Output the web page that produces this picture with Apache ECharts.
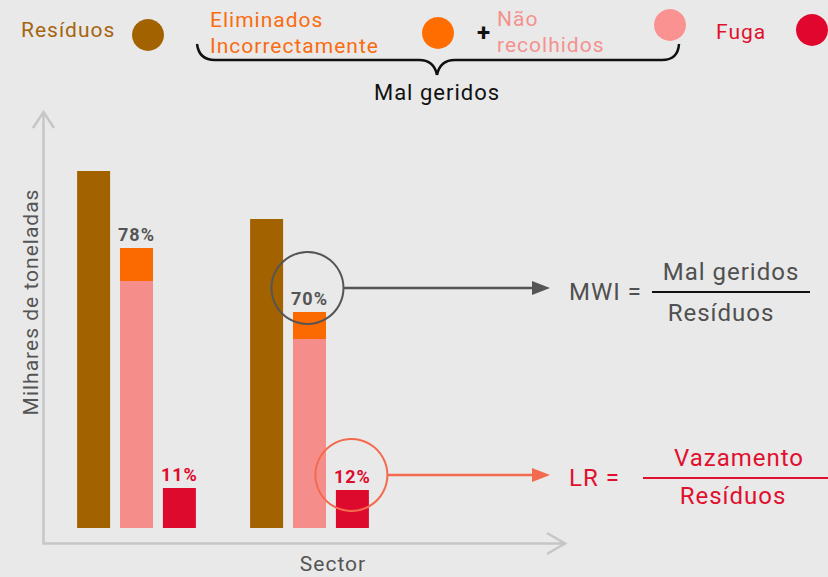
<!DOCTYPE html>
<html>
<head>
<meta charset="utf-8">
<script src="https://cdn.jsdelivr.net/npm/echarts/dist/echarts.min.js"></script>
<style>
  html, body { margin: 0; padding: 0; background: #e9e9e9; }
  #chart { width: 828px; height: 577px; }
  #chart text { letter-spacing: 1px; }
</style>
</head>
<body>
<div id="chart"></div>
<script>
// Thousands of tonnes per sector
const sectors = ['Sector 1', 'Sector 2'];
const residuos = [357, 309];
const naoRecolhidos = [247, 189];
const eliminadosIncorrectamente = [33, 27];
const fuga = [40, 38];

const FONT = 'Roboto, "Noto Sans", sans-serif';
const C_BROWN = '#a36200';
const C_ORANGE = '#fa6a00';
const C_PINK = '#f58e8a';
const C_RED = '#de0a2e';
const C_GRAY_TXT = '#555555';
const BAR_W = 33;
const BAR_GAP = 0.3;

const pct = (num, den) => Math.round(num / den * 100) + '%';

const chart = echarts.init(document.getElementById('chart'), null, { renderer: 'svg' });

const option = {
  backgroundColor: '#e9e9e9',
  animation: false,
  textStyle: { fontFamily: FONT },
  grid: { left: 50, right: 432, top: 112, bottom: 49 },
  xAxis: {
    type: 'category',
    data: sectors,
    axisLine: { show: false },
    axisTick: { show: false },
    axisLabel: { show: false },
    splitLine: { show: false }
  },
  yAxis: {
    type: 'value',
    min: 0,
    max: 416,
    axisLine: { show: false },
    axisTick: { show: false },
    axisLabel: { show: false },
    splitLine: { show: false }
  },
  series: [
    {
      name: 'Resíduos',
      type: 'bar',
      data: residuos,
      barWidth: BAR_W,
      barGap: (BAR_GAP * 100) + '%',
      itemStyle: { color: C_BROWN }
    },
    {
      name: 'Não recolhidos',
      type: 'bar',
      stack: 'malGeridos',
      data: naoRecolhidos,
      barWidth: BAR_W,
      itemStyle: { color: C_PINK }
    },
    {
      name: 'Eliminados Incorrectamente',
      type: 'bar',
      stack: 'malGeridos',
      data: eliminadosIncorrectamente,
      barWidth: BAR_W,
      itemStyle: { color: C_ORANGE },
      label: {
        show: true,
        position: 'top',
        distance: 5,
        fontFamily: FONT,
        fontSize: 18,
        fontWeight: 'bold',
        color: C_GRAY_TXT,
        formatter: p => pct(naoRecolhidos[p.dataIndex] + eliminadosIncorrectamente[p.dataIndex], residuos[p.dataIndex])
      }
    },
    {
      name: 'Fuga',
      type: 'bar',
      data: fuga,
      barWidth: BAR_W,
      itemStyle: { color: C_RED },
      label: {
        show: true,
        position: 'top',
        distance: 5,
        fontFamily: FONT,
        fontSize: 18,
        fontWeight: 'bold',
        color: C_RED,
        formatter: p => pct(fuga[p.dataIndex], residuos[p.dataIndex])
      }
    }
  ]
};

chart.setOption(option);

// Annotation geometry derived from the plotted bars
const slot = BAR_W * (1 + BAR_GAP);
const cx2 = chart.convertToPixel({ xAxisIndex: 0 }, sectors[1]);
const topMal2 = chart.convertToPixel({ yAxisIndex: 0 }, naoRecolhidos[1] + eliminadosIncorrectamente[1]);
const topFuga2 = chart.convertToPixel({ yAxisIndex: 0 }, fuga[1]);
const ring1 = { x: cx2 - 2, y: topMal2 - 24, r: 36 };
const ring2 = { x: cx2 + slot - 1, y: topFuga2 - 15, r: 36 };

const Z = 100;
function txt(x, y, text, size, color, align, extra) {
  return Object.assign({
    type: 'text', x: x, y: y, z: Z, silent: true,
    style: { text: text, fontFamily: FONT, fontSize: size, fill: color, align: align || 'left', verticalAlign: 'middle' }
  }, extra || {});
}
function dot(x, y, color) {
  return { type: 'circle', z: Z, shape: { cx: x, cy: y, r: 16 }, style: { fill: color }, silent: true };
}
function ring(c, color) {
  return { type: 'circle', z: Z, shape: { cx: c.x, cy: c.y, r: c.r }, style: { stroke: color, lineWidth: 2, fill: null }, silent: true };
}
function line(x1, y1, x2, y2, color, w) {
  return { type: 'line', z: Z, shape: { x1: x1, y1: y1, x2: x2, y2: y2 }, style: { stroke: color, lineWidth: w }, silent: true };
}
function curve(x1, y1, cx, cy, x2, y2, color, w) {
  return { type: 'bezierCurve', z: Z, shape: { x1: x1, y1: y1, cpx1: cx, cpy1: cy, x2: x2, y2: y2 }, style: { stroke: color, lineWidth: w, fill: null }, silent: true };
}
function chevron(points, color) {
  return { type: 'polyline', z: Z, shape: { points: points }, style: { stroke: color, lineWidth: 2.5, fill: null }, silent: true };
}
function arrowHead(xTip, y, color) {
  return { type: 'polygon', z: Z, shape: { points: [[xTip - 18, y - 7], [xTip, y], [xTip - 18, y + 7]] }, style: { fill: color }, silent: true };
}

const AXIS_C = '#c6c6c6';
const BRACE_C = '#111111';
const graphics = [
  // axes with open arrow heads
  chevron([[43.5, 113], [43.5, 543.5], [564, 543.5]], AXIS_C),
  chevron([[33, 128], [43.5, 112], [54, 128]], AXIS_C),
  chevron([[547, 533], [565, 543.5], [547, 554]], AXIS_C),
  txt(31, 302, 'Milhares de toneladas', 21, C_GRAY_TXT, 'center', { rotation: Math.PI / 2 }),
  txt(333, 564, 'Sector', 21, C_GRAY_TXT, 'center'),

  // legend row
  txt(21, 30, 'Resíduos', 21, '#a5650f'),
  dot(148, 35, C_BROWN),
  txt(210, 20, 'Eliminados', 21, '#f96c10'),
  txt(210, 45.5, 'Incorrectamente', 21, '#f96c10'),
  dot(438, 33, '#ff6d00'),
  { type: 'text', x: 484, y: 33, z: Z, silent: true,
    style: { text: '+', fontFamily: FONT, fontSize: 24, fontWeight: 'bold', fill: '#111111', align: 'center', verticalAlign: 'middle' } },
  txt(497, 19, 'Não', 21, '#f4928e'),
  txt(497, 45, 'recolhidos', 21, '#f4928e'),
  dot(670, 25, '#f99290'),
  txt(716, 31.5, 'Fuga', 21, '#e0102e'),
  dot(812, 30, '#e0062e'),
  // brace grouping the two mismanaged categories
  curve(197, 44, 199, 60, 215, 60, BRACE_C, 2.5),
  line(215, 60, 419, 60, BRACE_C, 2.5),
  curve(419, 60, 434, 60, 437, 75, BRACE_C, 2.5),
  curve(437, 75, 440, 60, 455, 60, BRACE_C, 2.5),
  line(455, 60, 662, 60, BRACE_C, 2.5),
  curve(662, 60, 678, 60, 679, 44, BRACE_C, 2.5),
  txt(437, 92, 'Mal geridos', 22, '#111111', 'center'),

  // MWI annotation
  ring(ring1, '#555555'),
  line(ring1.x + ring1.r, ring1.y, 534, ring1.y, '#555555', 2.5),
  arrowHead(550, ring1.y, '#555555'),
  txt(569, 292, 'MWI =', 24, '#505050'),
  line(652, 292, 810, 292, '#111111', 2),
  txt(731, 272, 'Mal geridos', 24, '#505050', 'center'),
  txt(721, 313, 'Resíduos', 24, '#505050', 'center'),

  // LR annotation
  ring(ring2, '#f46a4e'),
  line(ring2.x + ring2.r, ring2.y, 534, ring2.y, '#f46a4e', 2.5),
  arrowHead(550, ring2.y, '#f46a4e'),
  txt(569, 478, 'LR =', 24, '#e0102e'),
  line(643, 478, 828, 478, '#e0102e', 2),
  txt(739, 458, 'Vazamento', 24, '#e0102e', 'center'),
  txt(733, 496, 'Resíduos', 24, '#e0102e', 'center')
];

chart.setOption({ graphic: graphics });
</script>
</body>
</html>
